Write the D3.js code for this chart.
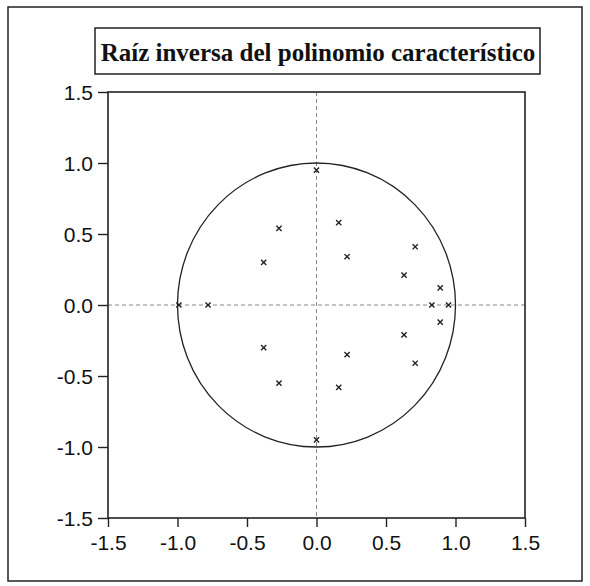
<!DOCTYPE html>
<html>
<head>
<meta charset="utf-8">
<script src="https://cdn.jsdelivr.net/npm/d3@7"></script>
<style>
  body { margin: 0; background: #fff; }
  .tick text { font-family: "Liberation Sans", Arial, sans-serif; font-size: 21px; fill: #111; }
</style>
</head>
<body>
<svg width="590" height="586"></svg>
<script>
const svg = d3.select("svg")

// inverse roots: real and imaginary parts
const realParts = [0, -0.27, 0.16, 0.71, -0.38, 0.22, 0.63, 0.89, -0.99, -0.78, 0.83, 0.95,
                   -0.38, -0.27, 0.22, 0.16, 0.63, 0.71, 0.89, 0]
const imagParts = [0.95, 0.54, 0.58, 0.41, 0.30, 0.34, 0.21, 0.12, 0, 0, 0, 0,
                   -0.30, -0.55, -0.35, -0.58, -0.21, -0.41, -0.12, -0.95]
const tickValues = [-1.5, -1.0, -0.5, 0.0, 0.5, 1.0, 1.5]
const title = "Raíz inversa del polinomio característico"

const roots = realParts.map((r, i) => ({ re: r, im: imagParts[i] }))

const xScale = d3.scaleLinear().domain([-1.5, 1.5]).range([108, 525])
const yScale = d3.scaleLinear().domain([-1.5, 1.5]).range([518, 92])
const fmt = d => d.toFixed(1)

// outer frame
svg.append("rect")
  .attr("x", 8).attr("y", 7).attr("width", 574).attr("height", 574)
  .attr("fill", "none").attr("stroke", "#222").attr("stroke-width", 1.5)

// title box
svg.append("rect")
  .attr("x", 95).attr("y", 28).attr("width", 445).attr("height", 46)
  .attr("fill", "none").attr("stroke", "#222").attr("stroke-width", 1.5)

svg.append("text")
  .attr("x", 318).attr("y", 61)
  .attr("text-anchor", "middle")
  .attr("font-family", "'Liberation Serif', 'DejaVu Serif', serif")
  .attr("font-weight", "bold")
  .attr("font-size", 25)
  .attr("fill", "#111")
  .text(title)

// zero reference lines
svg.append("line")
  .attr("x1", xScale(0)).attr("x2", xScale(0))
  .attr("y1", yScale(1.5)).attr("y2", yScale(-1.5))
  .attr("stroke", "#888").attr("stroke-dasharray", "4,3")
svg.append("line")
  .attr("x1", xScale(-1.5)).attr("x2", xScale(1.5))
  .attr("y1", yScale(0)).attr("y2", yScale(0))
  .attr("stroke", "#888").attr("stroke-dasharray", "4,3")

// unit circle
svg.append("ellipse")
  .attr("cx", xScale(0)).attr("cy", yScale(0))
  .attr("rx", xScale(1) - xScale(0)).attr("ry", yScale(0) - yScale(1))
  .attr("fill", "none").attr("stroke", "#222").attr("stroke-width", 1.3)

// axes
const xAxis = d3.axisBottom(xScale).tickValues(tickValues).tickFormat(fmt)
  .tickSize(9).tickPadding(8)
const yAxis = d3.axisLeft(yScale).tickValues(tickValues).tickFormat(fmt)
  .tickSize(10).tickPadding(5)

const xAxisG = svg.append("g")
  .attr("transform", `translate(0, ${yScale(-1.5)})`)
  .call(xAxis)
const yAxisG = svg.append("g")
  .attr("transform", `translate(${xScale(-1.5)}, 0)`)
  .call(yAxis)

xAxisG.selectAll(".domain").remove()
yAxisG.selectAll(".domain").remove()
svg.selectAll(".tick line").attr("stroke", "#222").attr("stroke-width", 1.4)
yAxisG.selectAll(".tick text").attr("dy", "0.36em")

// plot frame
svg.append("rect")
  .attr("x", xScale(-1.5)).attr("y", yScale(1.5))
  .attr("width", xScale(1.5) - xScale(-1.5))
  .attr("height", yScale(-1.5) - yScale(1.5))
  .attr("fill", "none").attr("stroke", "#222").attr("stroke-width", 1.6)

// root markers
const s = 2.6
svg.append("g")
  .selectAll("path").data(roots)
  .enter().append("path")
  .attr("d", d => {
    const cx = xScale(d.re), cy = yScale(d.im)
    return `M${cx - s},${cy - s}L${cx + s},${cy + s}M${cx - s},${cy + s}L${cx + s},${cy - s}`
  })
  .attr("stroke", "#222").attr("stroke-width", 1.4)
</script>
</body>
</html>
